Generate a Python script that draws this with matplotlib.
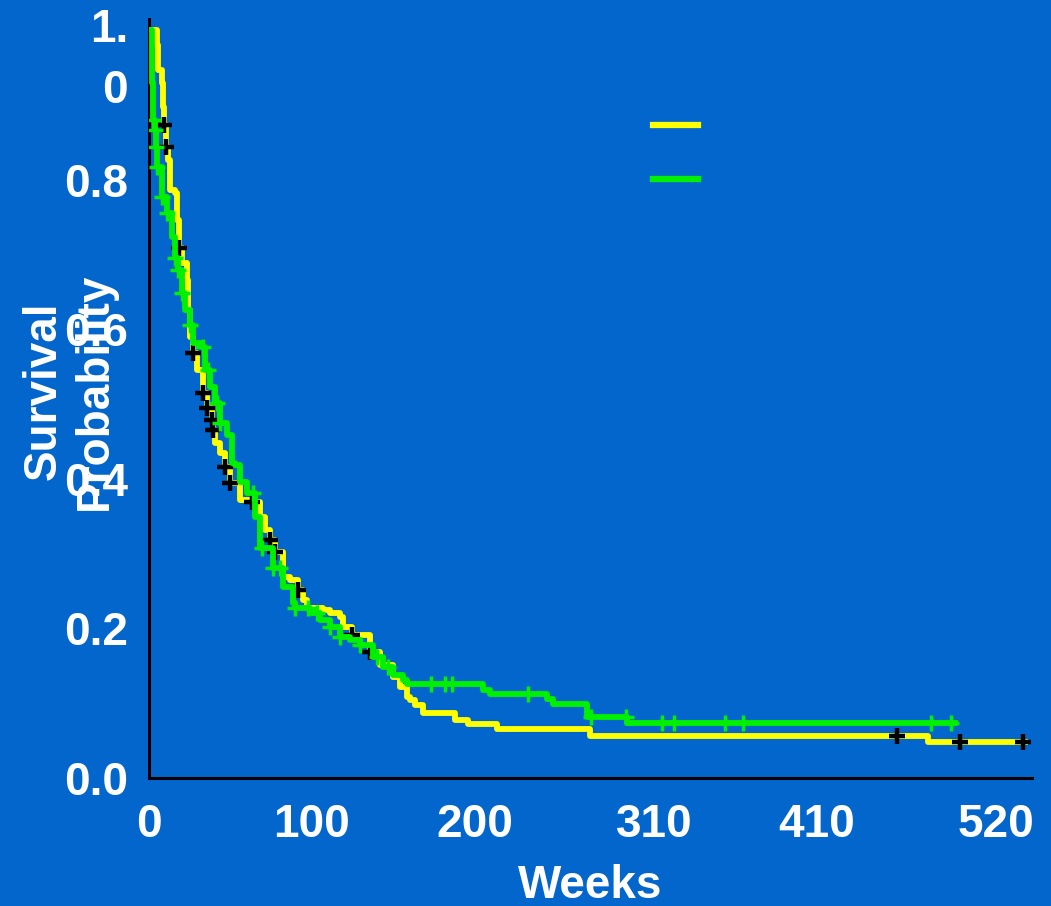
import numpy as np
import matplotlib
matplotlib.use('Agg')
import matplotlib.pyplot as plt
from matplotlib.lines import Line2D
from matplotlib.transforms import ScaledTranslation

# Kaplan-Meier steps (weeks, survival after the drop)
yellow_t = [0, 4.9, 5.5, 8.0, 8.6, 9.2, 10.4, 11.7, 12.9, 16.0, 17.2, 18.4, 20.3, 23.3, 23.9,
            25.2, 27.0, 29.5, 33.1, 35.6, 38.7, 39.3, 40.5, 43.6, 46.7, 49.7, 55.9, 63.2,
            68.1, 71.2, 74.3, 77.3, 82.3, 86.6, 91.5, 94.5, 97.0, 106.8, 111.1, 117.3,
            119.1, 124.6, 135.7, 141.8, 149.8, 154.1, 158.4, 160.2, 163.3, 168.2, 187.8,
            195.8, 213.6, 270.7, 478.2, 537.7]
yellow_s = [1.0, 0.980, 0.947, 0.930, 0.897, 0.873, 0.844, 0.826, 0.786, 0.782, 0.746, 0.709,
            0.689, 0.666, 0.626, 0.590, 0.568, 0.545, 0.515, 0.495, 0.479, 0.465, 0.448,
            0.434, 0.416, 0.394, 0.372, 0.369, 0.349, 0.332, 0.318, 0.302, 0.269, 0.265,
            0.251, 0.238, 0.227, 0.225, 0.221, 0.215, 0.202, 0.191, 0.168, 0.151, 0.135,
            0.122, 0.108, 0.104, 0.098, 0.087, 0.078, 0.072, 0.0655, 0.0565, 0.048, 0.048]
yellow_cens = [9.2, 10.4, 18.4, 27.0, 33.1, 35.6, 38.7, 39.3, 46.7, 49.7, 63.2, 74.3, 77.3,
               91.5, 124.6, 135.7, 459.2, 497.9, 536.5]

green_t = [0, 1.8, 2.5, 3.7, 4.3, 4.9, 8.0, 11.0, 14.1, 16.0, 17.8, 20.3, 22.1, 25.2, 27.0,
           32.5, 34.4, 37.4, 40.5, 43.6, 47.9, 51.0, 52.8, 55.9, 60.2, 65.1, 68.1, 76.1,
           82.3, 88.4, 89.6, 98.8, 105.0, 111.1, 117.3, 123.4, 129.5, 137.5, 143.6, 149.8,
           155.9, 158.4, 205.0, 209.3, 244.3, 248.0, 268.9, 293.4, 494.8]
green_s = [1.0, 0.929, 0.880, 0.866, 0.844, 0.817, 0.777, 0.755, 0.723, 0.695, 0.679, 0.648,
           0.626, 0.606, 0.582, 0.576, 0.545, 0.523, 0.501, 0.475, 0.459, 0.421, 0.418,
           0.396, 0.381, 0.349, 0.307, 0.281, 0.255, 0.234, 0.227, 0.221, 0.211, 0.202,
           0.189, 0.184, 0.178, 0.162, 0.148, 0.138, 0.131, 0.126, 0.118, 0.112, 0.106,
           0.099, 0.0816, 0.0735, 0.0735]
green_cens = [2.5, 3.7, 4.3, 4.9, 8.0, 11.0, 16.0, 17.8, 20.3, 25.2, 33.0, 36.2, 41.7, 43.6,
              63.8, 69.3, 76.1, 80.4, 89.6, 97.6, 103.1, 111.1, 117.3, 129.5, 139.9, 146.7,
              173.1, 181.7, 186.0, 232.7, 271.3, 292.8, 314.9, 322.3, 353.6, 364.6, 480.0,
              492.3]

xticks = [0, 100, 200, 310, 410, 520]
yticks = [0.0, 0.2, 0.4, 0.6, 0.8, 1.0]
ytick_labels = ['0.0', '0.2', '0.4', '0.6', '0.8', '1.\n0']

bg = '#0366CC'
yel = '#FFFF00'
grn = '#00F000'

plt.rcParams['font.family'] = ['Liberation Sans', 'DejaVu Sans']
plt.rcParams['font.weight'] = 'bold'
plt.rcParams['axes.labelweight'] = 'bold'


def level_at(ts, ss, c):
    i = np.searchsorted(ts, c, side='right') - 1
    return ss[max(i, 0)]


fig = plt.figure(figsize=(10.51, 9.06), dpi=100, facecolor=bg)
ax = fig.add_axes([0.1418, 0.1413, 0.840, 0.8377], facecolor=bg)

ax.step(yellow_t, yellow_s, where='post', color=yel, lw=4.2, zorder=3)
ax.plot(yellow_cens, [level_at(yellow_t, yellow_s, c) for c in yellow_cens], ls='none',
        marker='+', ms=12, mew=3.2, color='black', zorder=4)
ax.step(green_t, green_s, where='post', color=grn, lw=4.2, zorder=5)
ax.plot(green_cens, [level_at(green_t, green_s, c) for c in green_cens], ls='none',
        marker='+', ms=12, mew=2.5, color=grn, zorder=6)

ax.set_xlim(0, 542)
ax.set_ylim(0, 1.015)
for s in ['top', 'right']:
    ax.spines[s].set_visible(False)
for s in ['left', 'bottom']:
    ax.spines[s].set_linewidth(2.2)
    ax.spines[s].set_color('black')

ax.set_xticks(xticks)
ax.set_xticklabels([str(v) for v in xticks])
ax.set_yticks(yticks)
ax.set_yticklabels(ytick_labels)
ax.tick_params(axis='both', length=0, labelsize=33, labelcolor='white')
ax.tick_params(axis='x', pad=18)
ax.tick_params(axis='y', pad=15)

# wrapped "1.0" label: first line sits on the tick
top_lab = ax.yaxis.get_major_ticks()[-1].label1
top_lab.set_va('top')
top_lab.set_linespacing(1.5)
top_lab.set_transform(top_lab.get_transform() + ScaledTranslation(0, 0.22, fig.dpi_scale_trans))

ax.set_xlabel('Weeks', fontsize=33, fontweight='bold', color='white', labelpad=12)
ax.set_ylabel('Survival\nProbability', fontsize=33, fontweight='bold', color='white',
              va='center')
ax.yaxis.set_label_coords(-0.09, 0.51)

handles = [Line2D([], [], color=yel, lw=4.5), Line2D([], [], color=grn, lw=4.5)]
ax.legend(handles, [' ', ' '], loc='center left', bbox_to_anchor=(0.571, 0.821),
          frameon=False, fontsize=20, handlelength=1.6, labelspacing=1.0,
          borderpad=0, borderaxespad=0)

fig.savefig('out.png', dpi=100, facecolor=bg)
